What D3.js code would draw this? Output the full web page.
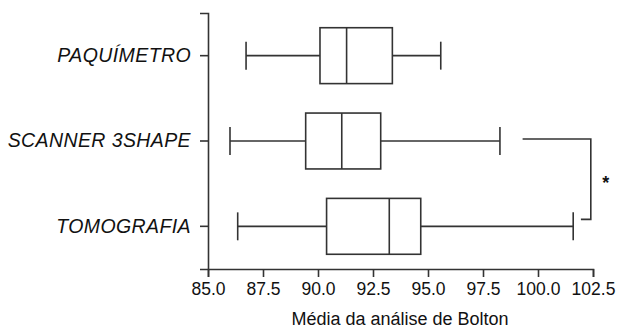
<!DOCTYPE html>
<html>
<head>
<meta charset="utf-8">
<script src="https://cdn.jsdelivr.net/npm/d3@7"></script>
<style>
  body { margin: 0; background: #fff; }
  svg { display: block; font-family: "Liberation Sans", Arial, sans-serif; }
</style>
</head>
<body>
<svg width="617" height="329"></svg>
<script>
var groups = ['PAQUÍMETRO', 'SCANNER 3SHAPE', 'TOMOGRAFIA'];
var whiskerLow = [86.73, 86.0, 86.35];
var q1 = [90.09, 89.44, 90.39];
var median = [91.3, 91.08, 93.24];
var q3 = [93.38, 92.85, 94.67];
var whiskerHigh = [95.58, 98.27, 101.6];
var xTicks = [85.0, 87.5, 90.0, 92.5, 95.0, 97.5, 100.0, 102.5];
var sigPair = ['SCANNER 3SHAPE', 'TOMOGRAFIA'];

var svg = d3.select('svg');
var ink = '#333';
var plotLeft = 208, plotRight = 593, plotTop = 13, plotBottom = 269;

var x = d3.scaleLinear().domain([85, 102.5]).range([plotLeft, plotRight]);
var y = d3.scaleBand().domain(groups).range([plotTop, plotBottom]).padding(0);
var boxH = y.bandwidth() * 0.655;
var capH = boxH / 2;

// axes
var xAxis = d3.axisBottom(x).tickValues(xTicks).tickFormat(d3.format('.1f'))
  .tickSizeOuter(0).tickSize(8).tickPadding(6);
var gx = svg.append('g').attr('transform', 'translate(0,' + plotBottom + ')').call(xAxis);
gx.select('.domain').attr('stroke', ink).attr('stroke-width', 1.6);
gx.selectAll('.tick line').attr('stroke', ink).attr('stroke-width', 1.6);
gx.selectAll('.tick text').attr('fill', '#111').style('font-size', '17.5px');

var yAxis = d3.axisLeft(y).tickSizeOuter(0).tickSize(8).tickPadding(9);
var gy = svg.append('g').attr('transform', 'translate(' + plotLeft + ',0)').call(yAxis);
gy.select('.domain').attr('stroke', ink).attr('stroke-width', 1.6);
gy.selectAll('.tick line').attr('stroke', ink).attr('stroke-width', 1.6);
gy.selectAll('.tick text').attr('fill', '#111').style('font-size', '19.5px')
  .style('font-style', 'italic').style('letter-spacing', '0.4px');

svg.append('text')
  .attr('x', 400).attr('y', 325)
  .attr('text-anchor', 'middle').attr('fill', '#111')
  .style('font-size', '18px')
  .text('Média da análise de Bolton');

// boxes
var rows = groups.map(function(g, i) {
  return { g: g, lo: whiskerLow[i], q1: q1[i], med: median[i], q3: q3[i], hi: whiskerHigh[i] };
});
var box = svg.selectAll('.box').data(rows).enter().append('g')
  .attr('transform', function(d) { return 'translate(0,' + (y(d.g) + y.bandwidth() / 2) + ')'; })
  .attr('stroke', ink).attr('stroke-width', 1.6).attr('fill', 'none');

box.append('line').attr('x1', function(d) { return x(d.lo); }).attr('x2', function(d) { return x(d.q1); });
box.append('line').attr('x1', function(d) { return x(d.q3); }).attr('x2', function(d) { return x(d.hi); });
box.append('line').attr('x1', function(d) { return x(d.lo); }).attr('x2', function(d) { return x(d.lo); })
  .attr('y1', -capH / 2).attr('y2', capH / 2);
box.append('line').attr('x1', function(d) { return x(d.hi); }).attr('x2', function(d) { return x(d.hi); })
  .attr('y1', -capH / 2).attr('y2', capH / 2);
box.append('rect')
  .attr('x', function(d) { return x(d.q1); })
  .attr('width', function(d) { return x(d.q3) - x(d.q1); })
  .attr('y', -boxH / 2).attr('height', boxH);
box.append('line').attr('x1', function(d) { return x(d.med); }).attr('x2', function(d) { return x(d.med); })
  .attr('y1', -boxH / 2).attr('y2', boxH / 2);

// significance bracket
var yA = y(sigPair[0]) + y.bandwidth() / 2 - 2;
var yB = y(sigPair[1]) + y.bandwidth() / 2 - 7;
var bx = x(102.4);
svg.append('path')
  .attr('d', 'M' + x(99.3) + ',' + yA + 'H' + bx + 'V' + yB + 'H' + x(101.95))
  .attr('stroke', ink).attr('stroke-width', 1.6).attr('fill', 'none');
svg.append('text')
  .attr('x', bx + 15).attr('y', (yA + yB) / 2 + 10)
  .attr('text-anchor', 'middle').attr('fill', '#111')
  .style('font-size', '18px').style('font-weight', 'bold')
  .text('*');
</script>
</body>
</html>
